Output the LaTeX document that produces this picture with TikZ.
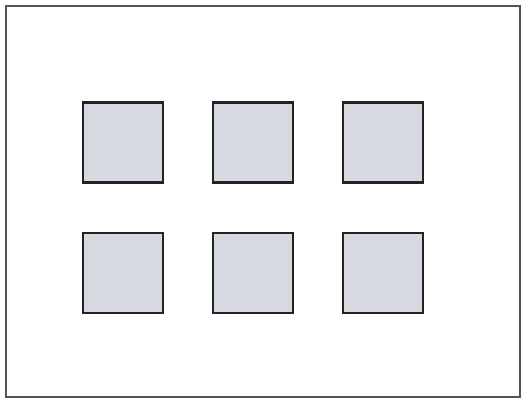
\documentclass[tikz,border=0pt]{standalone}
\usepackage{xcolor}
\usepackage{tikz}

\definecolor{cellfill}{RGB}{214,217,224}
\definecolor{celledge}{RGB}{35,35,35}
\definecolor{frameedge}{RGB}{80,85,85}

\begin{document}
\begin{tikzpicture}[
    x=0.025cm, y=-0.025cm,
    cell/.style={draw=celledge, fill=cellfill, line width=1.8pt,
      minimum size=2cm, inner sep=0pt, outer sep=0pt}
  ]
    \useasboundingbox (0,0) rectangle (523,399);
    \draw[frameedge, line width=0.9pt] (6,6) rectangle (520,397);
    \node[cell] (A1) at (123,142.5) {};
    \node[cell] (A2) at (253,142.5) {};
    \node[cell] (A3) at (383,142.5) {};
    \node[cell] (B1) at (123,273) {};
    \node[cell] (B2) at (253,273) {};
    \node[cell] (B3) at (383,273) {};
  \end{tikzpicture}
\end{document}
